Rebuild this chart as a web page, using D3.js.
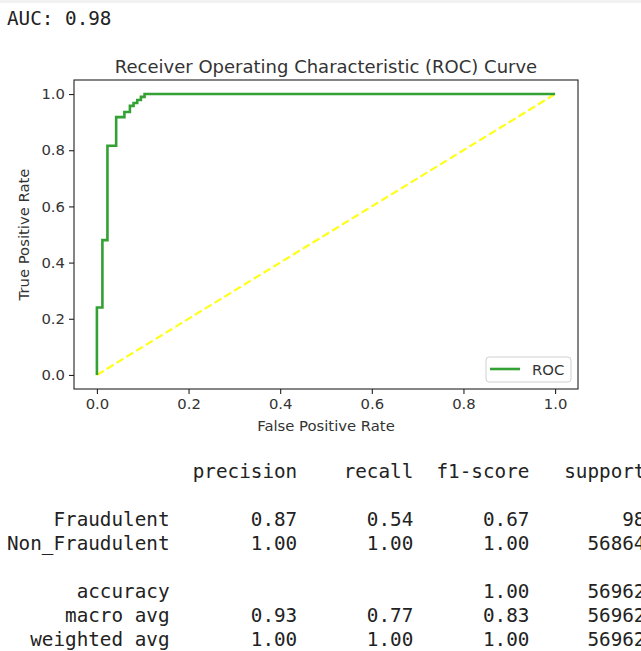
<!DOCTYPE html>
<html>
<head>
<meta charset="utf-8">
<script src="https://cdn.jsdelivr.net/npm/d3@7"></script>
<style>
body { margin: 0; background: #fff; }
svg { display: block; }
.mono { font-family: "DejaVu Sans Mono", monospace; font-size: 19.3px; fill: #222; white-space: pre; }
</style>
</head>
<body>
<script>
// roc_curve output
var fpr = [0, 0, 0.012, 0.012, 0.023, 0.023, 0.042, 0.042, 0.06, 0.06, 0.072, 0.072, 0.08, 0.08, 0.088, 0.088, 0.096, 0.096, 0.104, 0.104, 1.0];
var tpr = [0, 0.24, 0.24, 0.48, 0.48, 0.816, 0.816, 0.918, 0.918, 0.936, 0.936, 0.958, 0.958, 0.968, 0.968, 0.979, 0.979, 0.99, 0.99, 1.0, 1.0];
var xTicks = [0, 0.2, 0.4, 0.6, 0.8, 1.0];
var yTicks = [0, 0.2, 0.4, 0.6, 0.8, 1.0];
var auc = 0.98;

// classification report
var classNames = ['Fraudulent', 'Non_Fraudulent'];
var precision = [0.87, 1.00];
var recall = [0.54, 1.00];
var f1 = [0.67, 1.00];
var support = [98, 56864];
var avgNames = ['macro avg', 'weighted avg'];
var avgPrecision = [0.93, 1.00];
var avgRecall = [0.77, 1.00];
var avgF1 = [0.83, 1.00];
var accuracy = 1.00;
var totalSupport = 56962;

var W = 641, H = 651;
var svg = d3.select('body').append('svg').attr('width', W).attr('height', H);

svg.append('rect').attr('x', 0).attr('y', 0).attr('width', W).attr('height', 3).attr('fill', '#f2f2f2');

svg.append('text').attr('class', 'mono').attr('x', 7).attr('y', 25)
    .text('AUC: ' + auc.toFixed(2));

var pL = 74, pR = 578, pT = 80, pB = 389;
var x = d3.scaleLinear().domain([-0.05, 1.05]).range([pL, pR]);
var y = d3.scaleLinear().domain([-0.05, 1.05]).range([pB, pT]);

var fontSans = 'DejaVu Sans, sans-serif';

var xAxis = svg.append('g').attr('transform', 'translate(0,' + pB + ')')
    .call(d3.axisBottom(x).tickValues(xTicks).tickFormat(d3.format('.1f')).tickSizeInner(5).tickSizeOuter(0).tickPadding(4));
var yAxis = svg.append('g').attr('transform', 'translate(' + pL + ',0)')
    .call(d3.axisLeft(y).tickValues(yTicks).tickFormat(d3.format('.1f')).tickSizeInner(5).tickSizeOuter(0).tickPadding(4));
[xAxis, yAxis].forEach(function(g) {
    g.select('.domain').remove();
    g.selectAll('line').attr('stroke', '#222').attr('stroke-width', 1.1);
    g.selectAll('text').attr('font-family', fontSans).attr('font-size', 14.8).attr('fill', '#333');
});

// roc line and diagonal
var pts = fpr.map(function(d, i) { return [d, tpr[i]]; });
var line = d3.line().x(function(d) { return x(d[0]); }).y(function(d) { return y(d[1]); });

svg.append('path').datum([[0, 0], [1, 1]])
    .attr('d', line).attr('fill', 'none').attr('stroke', '#ffff1a')
    .attr('stroke-width', 2.2).attr('stroke-dasharray', '8,3.5');

svg.append('path').datum(pts)
    .attr('d', line).attr('fill', 'none').attr('stroke', '#33a133')
    .attr('stroke-width', 2.6).attr('stroke-linejoin', 'miter');

svg.append('rect').attr('x', pL).attr('y', pT).attr('width', pR - pL).attr('height', pB - pT)
    .attr('fill', 'none').attr('stroke', '#222').attr('stroke-width', 1.1);

// legend
var lg = svg.append('g');
lg.append('rect').attr('x', 486).attr('y', 357).attr('width', 85).attr('height', 25).attr('rx', 3)
    .attr('fill', '#fff').attr('stroke', '#d0d0d0').attr('stroke-width', 1);
lg.append('line').attr('x1', 490).attr('x2', 520).attr('y1', 369).attr('y2', 369)
    .attr('stroke', '#33a133').attr('stroke-width', 2.6);
lg.append('text').attr('x', 532).attr('y', 374.5).attr('font-family', fontSans).attr('font-size', 14.8)
    .attr('fill', '#333').text('ROC');

// titles
svg.append('text').attr('x', (pL + pR) / 2).attr('y', 73).attr('text-anchor', 'middle')
    .attr('font-family', fontSans).attr('font-size', 18).attr('fill', '#333')
    .text('Receiver Operating Characteristic (ROC) Curve');
svg.append('text').attr('x', (pL + pR) / 2).attr('y', 431).attr('text-anchor', 'middle')
    .attr('font-family', fontSans).attr('font-size', 14.8).attr('fill', '#333')
    .text('False Positive Rate');
svg.append('text').attr('transform', 'translate(29,' + ((pT + pB) / 2) + ') rotate(-90)')
    .attr('text-anchor', 'middle').attr('font-family', fontSans).attr('font-size', 14.8).attr('fill', '#333')
    .text('True Positive Rate');

// report text, sklearn layout
var width = 14;
function pad(s, n) { s = String(s); while (s.length < n) s = ' ' + s; return s; }
function f2(v) { return v.toFixed(2); }
var lines = [];
lines.push(pad('', width) + ' ' + [' precision', '    recall', '  f1-score', '   support'].join(''));
lines.push('');
classNames.forEach(function(n, i) {
    lines.push(pad(n, width) + ' ' + ' ' + pad(f2(precision[i]), 9) + ' ' + pad(f2(recall[i]), 9) + ' ' + pad(f2(f1[i]), 9) + ' ' + pad(support[i], 9));
});
lines.push('');
lines.push(pad('accuracy', width) + ' ' + ' ' + pad('', 9) + ' ' + pad('', 9) + ' ' + pad(f2(accuracy), 9) + ' ' + pad(totalSupport, 9));
avgNames.forEach(function(n, i) {
    lines.push(pad(n, width) + ' ' + ' ' + pad(f2(avgPrecision[i]), 9) + ' ' + pad(f2(avgRecall[i]), 9) + ' ' + pad(f2(avgF1[i]), 9) + ' ' + pad(totalSupport, 9));
});

svg.selectAll('text.report').data(lines).enter().append('text')
    .attr('class', 'mono report')
    .attr('x', 7)
    .attr('y', function(d, i) { return 478 + i * 24; })
    .text(function(d) { return d; });
</script>
</body>
</html>
